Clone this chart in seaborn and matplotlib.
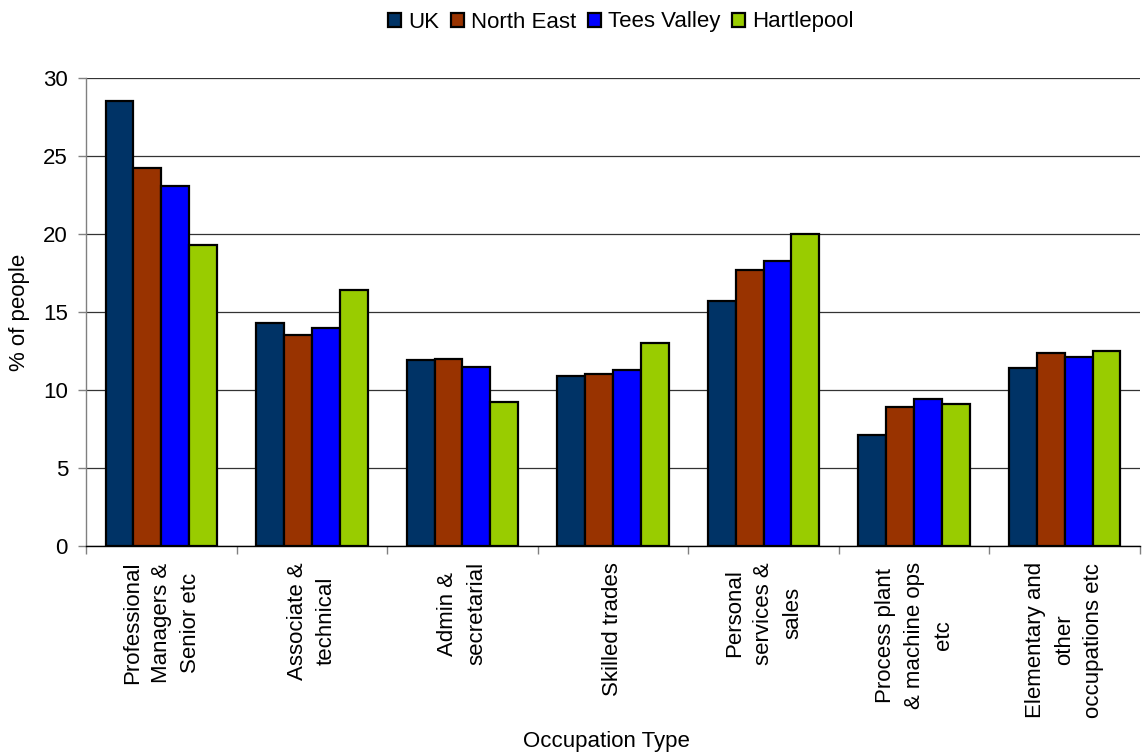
import matplotlib
matplotlib.use("Agg")
import matplotlib.pyplot as plt
import seaborn as sns
import pandas as pd
import numpy as np
from matplotlib.ticker import FixedLocator

# Occupation categories and the share of people (%) in each area
occupations = [
    "Professional\nManagers &\nSenior etc",
    "Associate &\ntechnical",
    "Admin &\nsecretarial",
    "Skilled trades",
    "Personal\nservices &\nsales",
    "Process plant\n& machine ops\netc",
    "Elementary and\nother\noccupations etc",
]
areas = ["UK", "North East", "Tees Valley", "Hartlepool"]
uk = [28.5, 14.3, 11.9, 10.9, 15.7, 7.1, 11.4]
north_east = [24.2, 13.5, 12.0, 11.0, 17.7, 8.9, 12.4]
tees_valley = [23.1, 14.0, 11.5, 11.3, 18.3, 9.4, 12.1]
hartlepool = [19.3, 16.4, 9.2, 13.0, 20.0, 9.1, 12.5]
area_colors = ["#003366", "#993300", "#0000FF", "#99CC00"]

series = [uk, north_east, tees_valley, hartlepool]
df = pd.DataFrame({
    "occupation": np.tile(occupations, len(areas)),
    "area": np.repeat(areas, len(occupations)),
    "pct": np.concatenate(series),
})

sns.set_style("white")
plt.rcParams["font.family"] = ["Liberation Sans", "DejaVu Sans"]
plt.rcParams["text.color"] = "black"
plt.rcParams["axes.labelcolor"] = "black"
FS = 16

fig = plt.figure(figsize=(11.48, 7.53), dpi=100)
ax = fig.add_axes([86 / 1148, 1 - 546 / 753, (1140 - 86) / 1148, (546 - 78) / 753])

sns.barplot(data=df, x="occupation", y="pct", hue="area", order=occupations,
            hue_order=areas, palette=area_colors, saturation=1, width=0.74,
            edgecolor="black", linewidth=1.6, ax=ax, zorder=3)

ax.set_xlim(-0.5, len(occupations) - 0.5)
ax.set_ylim(0, 30)
ax.set_yticks(np.arange(0, 31, 5))
ax.yaxis.grid(True, color="#333333", linewidth=0.9, zorder=0)
ax.set_axisbelow(True)

for side in ["top", "right"]:
    ax.spines[side].set_visible(False)
ax.spines["left"].set_color("#808080")
ax.spines["left"].set_linewidth(1.0)
ax.spines["bottom"].set_color("#000000")
ax.spines["bottom"].set_linewidth(1.0)

# category dividers as minor ticks on the x axis
ax.set_xticks(range(len(occupations)))
ax.set_xticklabels(occupations, rotation=90, ha="center", va="top",
                   multialignment="center", linespacing=1.5)
ax.xaxis.set_minor_locator(FixedLocator(np.arange(-0.5, len(occupations), 1.0)))
ax.tick_params(axis="x", which="minor", length=6, width=1, color="#808080", direction="out", bottom=True)
ax.tick_params(axis="x", which="major", length=0, pad=11.5, labelsize=FS, labelcolor="black")
ax.tick_params(axis="y", which="major", length=6, width=1, color="#808080", direction="out",
               left=True, pad=7, labelsize=FS, labelcolor="black")

ax.set_xlabel("")
ax.set_ylabel("")
fig.text(606 / 1148, 1 - 742 / 753, "Occupation Type", ha="center", va="center", fontsize=FS)
fig.text(20 / 1148, 1 - 312 / 753, "% of people", ha="center", va="center", rotation=90, fontsize=FS)

sns.move_legend(ax, "center", bbox_to_anchor=(621 / 1148, 1 - 22 / 753),
                bbox_transform=fig.transFigure, ncol=4, frameon=False, title=None,
                fontsize=FS, handlelength=0.6, handleheight=0.6, handletextpad=0.33,
                columnspacing=0.5, borderpad=0)

fig.savefig("out.png", dpi=100, facecolor="white")
